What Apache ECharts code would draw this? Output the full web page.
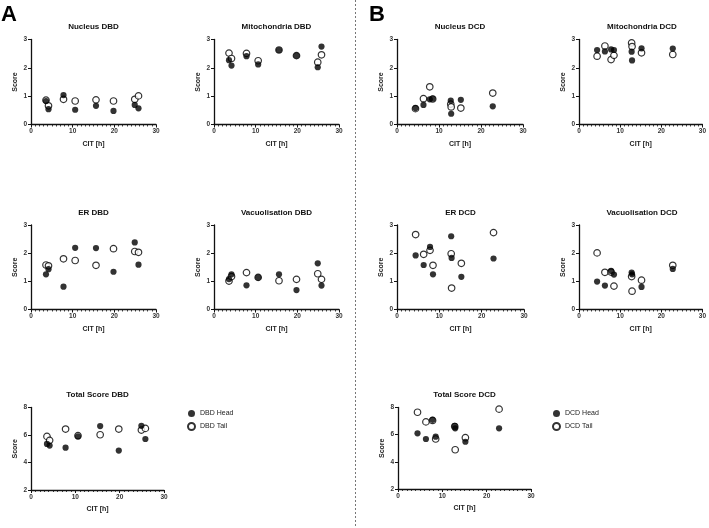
<!DOCTYPE html>
<html>
<head>
<meta charset="utf-8">
<script src="https://cdn.jsdelivr.net/npm/echarts@6/dist/echarts.min.js"></script>
<style>html,body{margin:0;padding:0;background:#fff;}#c{width:709px;height:528px;}</style>
</head>
<body>
<div id="c"></div>
<script>
// ---- Data ----
const dbdCIT = [3.6, 4.2, 7.8, 10.6, 15.6, 19.8, 24.9, 25.8];
const dcdCIT = [4.4, 6.3, 7.8, 8.5, 12.8, 12.9, 15.2, 22.8];

const nucleusDBDHead = [0.83, 0.54, 1.04, 0.52, 0.66, 0.48, 0.69, 0.57];
const nucleusDBDTail = [0.86, 0.66, 0.89, 0.83, 0.87, 0.83, 0.89, 1.01];
const mitoDBDHead = [2.27, 2.08, 2.41, 2.12, 2.63, 2.43, 2.02, 2.75];
const mitoDBDTail = [2.52, 2.33, 2.51, 2.25, 2.63, 2.43, 2.20, 2.46];
const erDBDHead = [1.25, 1.43, 0.81, 2.19, 2.18, 1.34, 2.38, 1.59];
const erDBDTail = [1.58, 1.55, 1.80, 1.74, 1.57, 2.16, 2.06, 2.03];
const vacDBDHead = [1.08, 1.25, 0.86, 1.14, 1.25, 0.69, 1.64, 0.85];
const vacDBDTail = [1.01, 1.17, 1.31, 1.14, 1.02, 1.07, 1.27, 1.07];
const totalDBDHead = [5.35, 5.23, 5.08, 5.90, 6.65, 4.87, 6.67, 5.71];
const totalDBDTail = [5.90, 5.61, 6.43, 5.95, 6.02, 6.43, 6.36, 6.48];

const nucleusDCDHead = [0.58, 0.69, 0.89, 0.91, 0.84, 0.38, 0.87, 0.64];
const nucleusDCDTail = [0.56, 0.91, 1.33, 0.90, 0.72, 0.62, 0.58, 1.11];
const mitoDCDHead = [2.63, 2.58, 2.65, 2.63, 2.57, 2.26, 2.69, 2.68];
const mitoDCDTail = [2.41, 2.77, 2.29, 2.44, 2.88, 2.75, 2.53, 2.47];
const erDCDHead = [1.92, 1.58, 2.22, 1.25, 2.60, 1.83, 1.16, 1.81];
const erDCDTail = [2.66, 1.96, 2.10, 1.57, 1.98, 0.76, 1.64, 2.73];
const vacDCDHead = [0.99, 0.85, 1.37, 1.24, 1.31, 1.25, 0.80, 1.44];
const vacDCDTail = [2.01, 1.32, 1.33, 0.83, 1.17, 0.65, 1.04, 1.57];
const totalDCDHead = [6.10, 5.68, 7.09, 5.85, 6.64, 6.47, 5.48, 6.47];
const totalDCDTail = [7.65, 6.94, 7.05, 5.68, 6.60, 4.89, 5.78, 7.88];

const xTicks = [0, 10, 20, 30];
const panelTitles = ['Nucleus DBD','Mitochondria DBD','Nucleus DCD','Mitochondria DCD',
  'ER DBD','Vacuolisation DBD','ER DCD','Vacuolisation DCD','Total Score DBD','Total Score DCD'];
const xName = 'CIT [h]';
const yName = 'Score';

// ---- Layout ----
const FONT = '"Liberation Sans", Arial, sans-serif';
const panels = [
  {title: panelTitles[0], x: dbdCIT, head: nucleusDBDHead, tail: nucleusDBDTail, grp:'DBD', l:31, t:39.5, w:125, h:85, ymin:0, ymax:3, yi:1},
  {title: panelTitles[1], x: dbdCIT, head: mitoDBDHead, tail: mitoDBDTail, grp:'DBD', l:214, t:39.5, w:125, h:85, ymin:0, ymax:3, yi:1},
  {title: panelTitles[2], x: dcdCIT, head: nucleusDCDHead, tail: nucleusDCDTail, grp:'DCD', l:397, t:39.5, w:126, h:85, ymin:0, ymax:3, yi:1},
  {title: panelTitles[3], x: dcdCIT, head: mitoDCDHead, tail: mitoDCDTail, grp:'DCD', l:579, t:39.5, w:126, h:85, ymin:0, ymax:3, yi:1},
  {title: panelTitles[4], x: dbdCIT, head: erDBDHead, tail: erDBDTail, grp:'DBD', l:31, t:225, w:125, h:84.5, ymin:0, ymax:3, yi:1},
  {title: panelTitles[5], x: dbdCIT, head: vacDBDHead, tail: vacDBDTail, grp:'DBD', l:214, t:225, w:125, h:84.5, ymin:0, ymax:3, yi:1},
  {title: panelTitles[6], x: dcdCIT, head: erDCDHead, tail: erDCDTail, grp:'DCD', l:397, t:225, w:127, h:84.5, ymin:0, ymax:3, yi:1},
  {title: panelTitles[7], x: dcdCIT, head: vacDCDHead, tail: vacDCDTail, grp:'DCD', l:579, t:225, w:126, h:84.5, ymin:0, ymax:3, yi:1},
  {title: panelTitles[8], x: dbdCIT, head: totalDBDHead, tail: totalDBDTail, grp:'DBD', l:31, t:407.5, w:133, h:82.5, ymin:2, ymax:8, yi:2},
  {title: panelTitles[9], x: dcdCIT, head: totalDCDHead, tail: totalDCDTail, grp:'DCD', l:398, t:407.5, w:133, h:81.5, ymin:2, ymax:8, yi:2}
];

const grid = [], xAxis = [], yAxis = [], series = [], graphic = [];
const axisCol = '#111';
panels.forEach((p, i) => {
  grid.push({left: p.l, top: p.t, width: p.w, height: p.h, containLabel: false});
  xAxis.push({
    type: 'value', gridIndex: i, min: xTicks[0], max: xTicks[xTicks.length-1], interval: 10,
    name: xName, nameLocation: 'middle', nameGap: 16,
    nameTextStyle: {fontFamily: FONT, fontSize: 7, fontWeight: 'bold', color: '#222'},
    axisLine: {show: true, onZero: false, lineStyle: {color: axisCol, width: 1.3}},
    axisTick: {show: true, length: 3, lineStyle: {color: axisCol, width: 1}},
    minorTick: {show: true, splitNumber: 10, length: 2, lineStyle: {color: axisCol, width: 0.8}},
    splitLine: {show: false},
    axisLabel: {fontFamily: FONT, fontSize: 6.5, fontWeight: 'bold', color: '#333', margin: 3.5}
  });
  yAxis.push({
    type: 'value', gridIndex: i, min: p.ymin, max: p.ymax, interval: p.yi,
    name: yName, nameLocation: 'middle', nameGap: 12, nameRotate: 90,
    nameTextStyle: {fontFamily: FONT, fontSize: 7, fontWeight: 'bold', color: '#222'},
    axisLine: {show: true, onZero: false, lineStyle: {color: axisCol, width: 1.3}},
    axisTick: {show: true, length: 3, lineStyle: {color: axisCol, width: 1}},
    splitLine: {show: false},
    axisLabel: {fontFamily: FONT, fontSize: 6.5, fontWeight: 'bold', color: '#333', margin: 4}
  });
  series.push({
    name: p.grp + ' Tail', type: 'scatter', xAxisIndex: i, yAxisIndex: i,
    data: p.x.map((v, k) => [v, p.tail[k]]),
    symbol: 'circle', symbolSize: 6.5,
    itemStyle: {color: '#fff', borderColor: '#000', borderWidth: 1.2},
    emphasis: {disabled: true}, z: 2
  });
  series.push({
    name: p.grp + ' Head', type: 'scatter', xAxisIndex: i, yAxisIndex: i,
    data: p.x.map((v, k) => [v, p.head[k]]),
    symbol: 'circle', symbolSize: 6.2,
    itemStyle: {color: '#000', borderColor: '#000', borderWidth: 0},
    emphasis: {disabled: true}, z: 3
  });
  graphic.push({
    type: 'text', x: p.l + p.w / 2, y: p.t - 12.5,
    style: {text: p.title, textAlign: 'center', textVerticalAlign: 'middle',
            font: 'bold 8px ' + FONT, fill: '#111'}
  });
});
graphic.push({type: 'text', x: 1, y: 15, style: {text: 'A', textAlign: 'left', textVerticalAlign: 'middle', font: 'bold 22px ' + FONT, fill: '#000'}});
graphic.push({type: 'text', x: 369, y: 15, style: {text: 'B', textAlign: 'left', textVerticalAlign: 'middle', font: 'bold 22px ' + FONT, fill: '#000'}});
graphic.push({type: 'line', shape: {x1: 355.5, y1: 0, x2: 355.5, y2: 528},
  style: {stroke: '#777', lineWidth: 1, lineDash: [2, 2]}});

const legendCommon = {
  orient: 'vertical', itemWidth: 7, itemHeight: 7, itemGap: 5, icon: 'circle',
  textStyle: {fontFamily: FONT, fontSize: 7, color: '#222'}, selectedMode: false
};

const chart = echarts.init(document.getElementById('c'), null, {renderer: 'canvas'});
chart.setOption({
  animation: false,
  backgroundColor: '#fff',
  grid, xAxis, yAxis, series, graphic,
  legend: [
    Object.assign({}, legendCommon, {left: 182, top: 405, data: ['DBD Head', 'DBD Tail']}),
    Object.assign({}, legendCommon, {left: 547, top: 405, data: ['DCD Head', 'DCD Tail']})
  ]
});
</script>
</body>
</html>
